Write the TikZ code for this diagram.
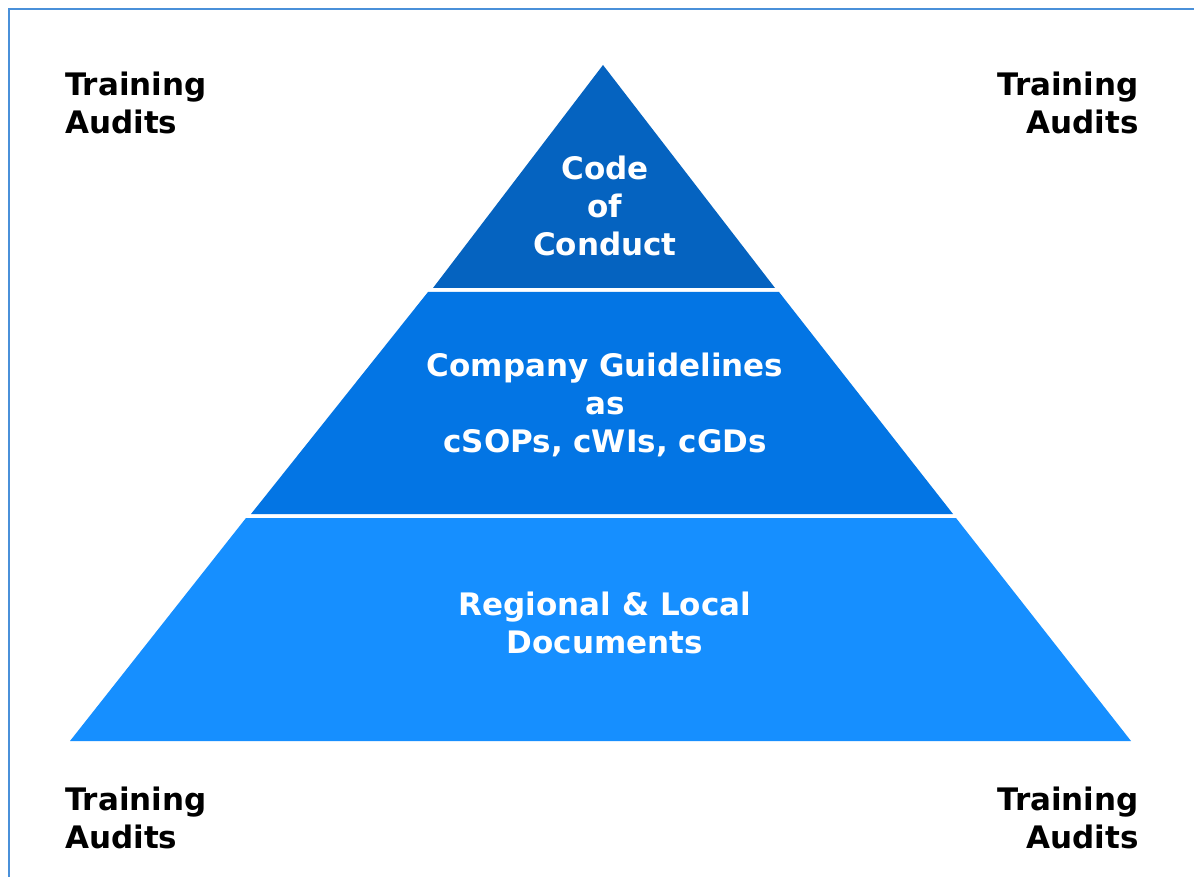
\documentclass[tikz,border=0pt]{standalone}
\usepackage{fontspec}
\setmainfont{DejaVu Sans}
\definecolor{tierA}{RGB}{5,99,192}
\definecolor{tierB}{RGB}{3,117,228}
\definecolor{tierC}{RGB}{22,143,255}
\definecolor{frame}{RGB}{74,144,217}
\tikzset{
  lbl/.style={font=\bfseries\fontsize{31}{37.5}\selectfont, text=black, inner sep=0pt},
  tiertext/.style={font=\bfseries\fontsize{31}{38}\selectfont, text=white, align=center, inner sep=0pt},
}
\begin{document}
\begin{tikzpicture}[x=1pt,y=-1pt]
\useasboundingbox (0,0) rectangle (1194,877);
\fill[white] (0,0) rectangle (1194,877);
% frame lines
\draw[frame, line width=2.5pt] (9,877) -- (9,9) -- (1194,9);
% tiers
\fill[tierA] (603,65) -- (775,288) -- (433,288) -- cycle;
\fill[tierB] (428,292) -- (779,292) -- (953,514) -- (251,514) -- cycle;
\fill[tierC] (246,518) -- (956,518) -- (1131,741) -- (70,741) -- cycle;
% tier labels
\node[tiertext] (code) at (605,206) {Code\\of\\Conduct};
\node[tiertext] (comp) at (605,405) {Company Guidelines\\as\\cSOPs, cWIs, cGDs};
\node[tiertext] (reg) at (605,623) {Regional \& Local\\Documents};
% corner labels
\node[lbl, align=left, anchor=north west] (tl) at (65,72) {Training\\Audits};
\node[lbl, align=right, anchor=north east] (tr) at (1139,72) {Training\\Audits};
\node[lbl, align=left, anchor=north west] (bl) at (65,787) {Training\\Audits};
\node[lbl, align=right, anchor=north east] (br) at (1139,787) {Training\\Audits};
\end{tikzpicture}
\end{document}
